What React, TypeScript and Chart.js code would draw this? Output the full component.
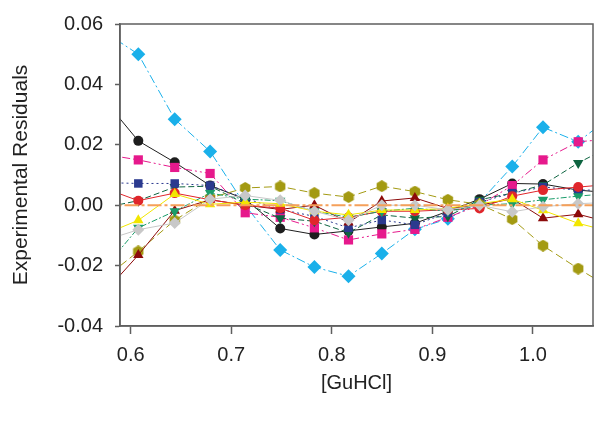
import React, { useEffect, useRef } from "react";
import { Chart, registerables } from "chart.js";

Chart.register(...registerables);

// x positions of the measurements ([GuHCl]); first/last lie outside the visible range
const guhcl = [0.571, 0.6076, 0.6438, 0.679, 0.7139, 0.7487, 0.7827, 0.8166, 0.8497, 0.8826, 0.9154, 0.9469, 0.9794, 1.010, 1.045, 1.08];

const cyanDiamond = [0.058, 0.050, 0.0285, 0.0178, 0.0, -0.0148, -0.0205, -0.0235, -0.016, -0.008, -0.0045, 0.001, 0.0128, 0.0258, 0.021, 0.030];
const blackCircle = [0.036, 0.0213, 0.0142, 0.0065, 0.002, -0.0077, -0.0097, -0.0085, -0.0072, -0.006, -0.002, 0.002, 0.0072, 0.007, 0.005, 0.004];
const pinkSquare = [0.017, 0.015, 0.0125, 0.0105, -0.0025, -0.004, -0.0075, -0.0115, -0.0095, -0.008, -0.004, 0.0, 0.0065, 0.015, 0.021, 0.022];
const navySquare = [0.0075, 0.0072, 0.0072, 0.0065, 0.0023, -0.0014, -0.0037, -0.0075, -0.0049, -0.0065, -0.0025, 0.001, 0.004, 0.006, 0.005, 0.005];
const darkGreenTri = [-0.001, 0.0015, 0.006, 0.0063, 0.0005, -0.0043, -0.0053, -0.0091, -0.0032, -0.0043, -0.0037, 0.0018, 0.004, 0.0067, 0.014, 0.02];
const greenTri = [-0.022, -0.0075, -0.002, 0.004, 0.002, 0.0015, -0.002, -0.004, -0.002, -0.001, -0.002, 0.0, 0.0005, 0.0018, 0.003, 0.004];
const darkRedTri = [-0.03, -0.0165, -0.0018, 0.0018, 0.0, -0.0014, 0.0, -0.0057, 0.0014, 0.0024, -0.0011, 0.0, 0.0021, -0.0043, -0.003, -0.006];
const oliveHex = [-0.025, -0.0153, -0.005, 0.0024, 0.0057, 0.0062, 0.004, 0.0027, 0.0063, 0.0045, 0.0018, 0.0003, -0.0046, -0.0134, -0.021, -0.028];
const yellowTri = [-0.01, -0.005, 0.0037, 0.0003, 0.001, 0.0005, -0.002, -0.0032, -0.0016, -0.0016, -0.001, 0.0005, 0.002, -0.0017, -0.006, -0.009];
const grayDiamond = [-0.012, -0.0081, -0.0059, 0.002, 0.0032, 0.0016, -0.002, -0.005, 0.0, 0.0, -0.0015, 0.0, -0.0022, -0.0005, 0.0005, 0.001];
const redCircle = [0.006, 0.0015, 0.004, 0.0018, 0.0, -0.001, -0.005, -0.004, -0.002, -0.002, -0.0015, -0.0011, 0.003, 0.005, 0.006, 0.007];
const orangeZero = [0, 0, 0, 0, 0, 0, 0, 0, 0, 0, 0, 0, 0, 0, 0, 0];

const xTicks = [0.6, 0.7, 0.8, 0.9, 1.0];
const yTicks = [-0.04, -0.02, 0.0, 0.02, 0.04, 0.06];

function hexagon(color: string, size: number) {
  const c = document.createElement("canvas");
  c.width = size;
  c.height = size;
  const g = c.getContext("2d")!;
  const r = size / 2;
  g.fillStyle = color;
  g.beginPath();
  for (let i = 0; i < 6; i++) {
    const a = (Math.PI / 3) * i + Math.PI / 6;
    const px = r + r * Math.cos(a);
    const py = r + r * Math.sin(a);
    if (i === 0) g.moveTo(px, py);
    else g.lineTo(px, py);
  }
  g.closePath();
  g.fill();
  return c;
}

const FONT = "'Liberation Sans', Arial, sans-serif";
const AXIS = "#5f5f5f";

export default function App() {
  const ref = useRef<HTMLCanvasElement>(null);
  useEffect(() => {
    const mk = (label: string, ys: number[], color: string, style: any, radius: number, dash: number[], width = 1) => ({
      label,
      data: guhcl.map((x, i) => ({ x, y: ys[i] })),
      borderColor: color,
      backgroundColor: color,
      pointBackgroundColor: color,
      pointBorderColor: color,
      pointBorderWidth: 0,
      pointStyle: style,
      pointRadius: radius,
      borderWidth: width,
      borderDash: dash,
      showLine: true,
      tension: 0,
    });
    const datasets = [
      mk("orange", orangeZero, "#F5A05A", "circle", 0, [14, 3, 3, 3], 2),
      mk("gray", grayDiamond, "#C8C8C8", "rectRot", 6, []),
      mk("yellow", yellowTri, "#F2E600", "triangle", 6, []),
      mk("green", greenTri, "#1A9C6A", "triangle", 6, [6, 2, 2, 2]),
      mk("red", redCircle, "#E0262B", "circle", 5, []),
      mk("darkred", darkRedTri, "#8C0A0A", "triangle", 6, []),
      mk("olive", oliveHex, "#A39A12", hexagon("#A39A12", 12), 6, [8, 4]),
      mk("navy", navySquare, "#2B3A8F", "rect", 6, [2, 3]),
      mk("darkgreen", darkGreenTri, "#0D6440", "triangle", 6, [6, 3]),
      mk("pink", pinkSquare, "#E6198C", "rect", 6.5, [8, 3, 2, 3, 2, 3]),
      mk("black", blackCircle, "#1E1E1E", "circle", 5, []),
      mk("cyan", cyanDiamond, "#1AB0EA", "rectRot", 7, [9, 3, 2, 3]),
    ];
    (datasets[3] as any).pointRotation = 180;
    (datasets[8] as any).pointRotation = 180;

    const frame = {
      id: "frame",
      afterDatasetsDraw(chart: any) {
        const { ctx, chartArea: a } = chart;
        ctx.save();
        ctx.strokeStyle = AXIS;
        ctx.lineWidth = 1.5;
        ctx.strokeRect(a.left, a.top, a.right - a.left, a.bottom - a.top);
        ctx.restore();
      },
    };

    const chart = new Chart(ref.current!, {
      type: "scatter",
      data: { datasets } as any,
      plugins: [frame],
      options: {
        animation: false,
        responsive: false,
        layout: { padding: { top: 15, right: 7, left: 0, bottom: 0 } },
        plugins: { legend: { display: false }, tooltip: { enabled: false } },
        scales: {
          x: {
            type: "linear",
            min: 0.5894,
            max: 1.0597,
            afterBuildTicks: (s: any) => {
              s.ticks = xTicks.map((v) => ({ value: v }));
            },
            afterFit: (s: any) => {
              s.height = 98;
            },
            grid: { drawOnChartArea: false, tickLength: 8, tickColor: AXIS, tickWidth: 1.5 },
            border: { color: AXIS, width: 1.5 },
            ticks: {
              color: "#222",
              font: { family: FONT, size: 20 },
              padding: 9,
              maxRotation: 0,
              callback: (v: any) => Number(v).toFixed(1),
            },
            title: {
              display: true,
              text: "[GuHCl]",
              color: "#222",
              font: { family: FONT, size: 20 },
              padding: { top: 0, bottom: 29 },
            },
          },
          y: {
            type: "linear",
            min: -0.04,
            max: 0.06,
            afterBuildTicks: (s: any) => {
              s.ticks = yTicks.map((v) => ({ value: v }));
            },
            afterFit: (s: any) => {
              s.width = 120;
            },
            grid: { drawOnChartArea: false, tickLength: 5, tickColor: AXIS, tickWidth: 1.5 },
            border: { color: AXIS, width: 1.5 },
            ticks: {
              color: "#222",
              font: { family: FONT, size: 20 },
              padding: 12,
              callback: (v: any) => Number(v).toFixed(2),
            },
            title: {
              display: true,
              text: "Experimental Residuals",
              color: "#222",
              font: { family: FONT, size: 21 },
              padding: { top: 9, bottom: 0 },
            },
          },
        },
      } as any,
    });
    return () => chart.destroy();
  }, []);
  return (
    <div style={{ position: "absolute", left: 0, top: 0, width: 600, height: 424, background: "#fff" }}>
      <canvas ref={ref} width={600} height={424} style={{ width: 600, height: 424 }} />
    </div>
  );
}
